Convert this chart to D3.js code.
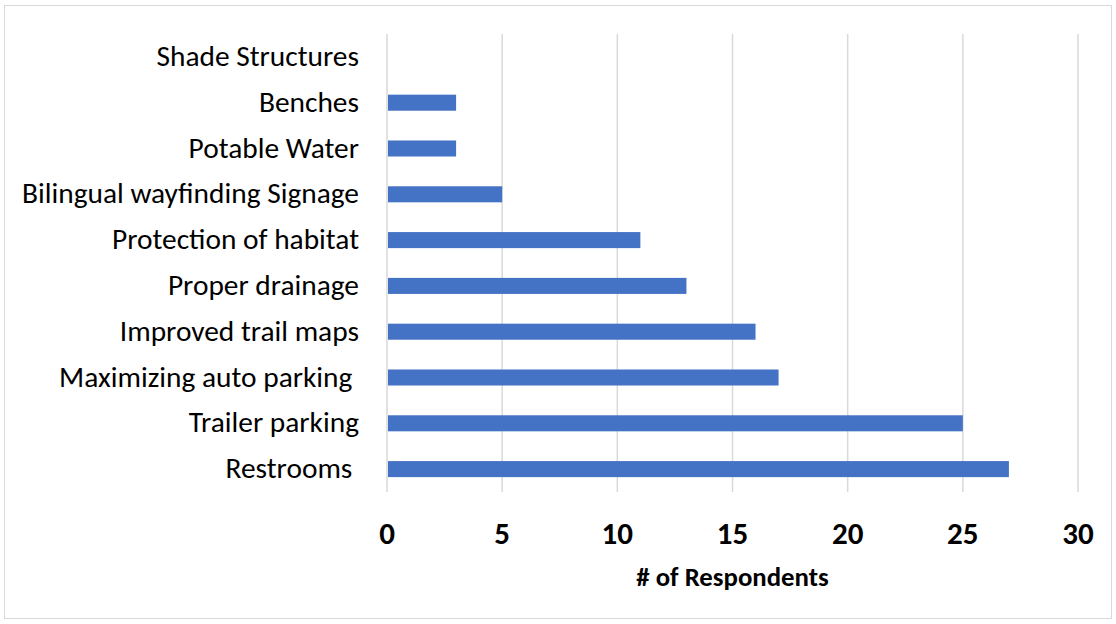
<!DOCTYPE html>
<html>
<head>
<meta charset="utf-8">
<script src="https://cdn.jsdelivr.net/npm/d3@7"></script>
<style>
  body { margin: 0; background: #fff; }
  text { font-family: Carlito, "Open Sans", "Liberation Sans", sans-serif; }
</style>
</head>
<body>
<script>
// categories top to bottom, as in the chart
const categories = [
  "Shade Structures",
  "Benches",
  "Potable Water",
  "Bilingual wayfinding Signage",
  "Protection of habitat",
  "Proper drainage",
  "Improved trail maps",
  "Maximizing auto parking ",
  "Trailer parking",
  "Restrooms "
];
const respondents = [0, 3, 3, 5, 11, 13, 16, 17, 25, 27];
const xTicks = [0, 5, 10, 15, 20, 25, 30];
const xTitle = "# of Respondents";

const width = 1116, height = 624;
const plotLeft = 387, plotRight = 1078, plotTop = 34, plotBottom = 492;

const svg = d3.select("body").append("svg")
  .attr("width", width)
  .attr("height", height);

// chart frame
svg.append("rect")
  .attr("x", 4.5).attr("y", 5.5)
  .attr("width", 1107).attr("height", 613)
  .attr("fill", "none")
  .attr("stroke", "#d9d9d9");

let x = d3.scaleLinear().domain([0, 30]).range([plotLeft, plotRight]);
let y = d3.scaleBand().domain(categories).range([plotTop, plotBottom]).paddingInner(0.65).paddingOuter(0.325);

// gridlines
svg.append("g")
  .selectAll("line")
  .data(xTicks)
  .enter()
  .append("line")
  .attr("x1", d => x(d)).attr("x2", d => x(d))
  .attr("y1", plotTop).attr("y2", plotBottom)
  .attr("stroke", "#d9d9d9")
  .attr("stroke-width", 1.5);

// bars
svg.append("g")
  .selectAll("rect")
  .data(categories)
  .enter()
  .append("rect")
  .attr("x", x(0) + 1)
  .attr("y", d => y(d))
  .attr("width", (d, i) => Math.max(0, x(respondents[i]) - x(0) - 1))
  .attr("height", y.bandwidth())
  .attr("fill", "#4472c4");

// category labels
svg.append("g")
  .selectAll("text")
  .data(categories)
  .enter()
  .append("text")
  .attr("x", 359)
  .attr("y", d => y(d) + y.bandwidth() / 2)
  .attr("dy", "0.31em")
  .attr("text-anchor", "end")
  .style("white-space", "pre")
  .attr("font-size", 29.4)
  .attr("fill", "#000")
  .text(d => d);

// x tick labels
svg.append("g")
  .selectAll("text")
  .data(xTicks)
  .enter()
  .append("text")
  .attr("x", d => x(d))
  .attr("y", 533)
  .attr("dy", "0.35em")
  .attr("text-anchor", "middle")
  .attr("font-size", 31)
  .attr("font-weight", "bold")
  .text(d => d);

// axis title
svg.append("text")
  .attr("x", (plotLeft + plotRight) / 2)
  .attr("y", 577)
  .attr("dy", "0.35em")
  .attr("text-anchor", "middle")
  .attr("font-size", 26.8)
  .attr("font-weight", "bold")
  .text(xTitle);
</script>
</body>
</html>
